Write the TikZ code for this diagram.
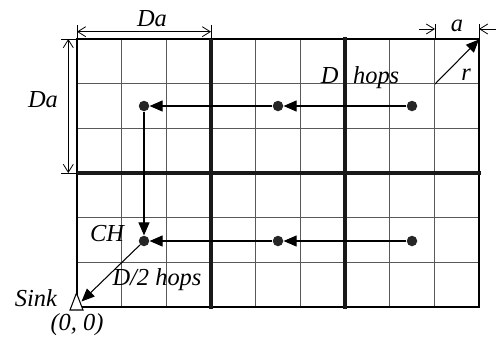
\documentclass[tikz,border=0pt]{standalone}
\usepackage{fontspec}
\setmainfont{Liberation Serif}
\usetikzlibrary{arrows.meta,shapes.geometric}
\begin{document}
\begin{tikzpicture}[x=0.02cm,y=-0.02cm,
  lbl/.style={font=\fontsize{13.9}{16}\selectfont\itshape, inner sep=0, anchor=base},
  dot/.style={circle,fill=black!85,inner sep=0,minimum size=0.21cm},
  hop/.style={line width=0.6pt,-{Triangle[length=0.26cm,width=0.22cm]}},
  dimline/.style={line width=0.45pt},
  dimarrow/.style={line width=0.45pt,{Straight Barb[length=0.16cm,width=0.2cm]}-{Straight Barb[length=0.16cm,width=0.2cm]}},
  onearrow/.style={line width=0.45pt,-{Straight Barb[length=0.16cm,width=0.2cm]}},
  gridline/.style={line width=0.6pt,black!65},
  heavy/.style={line width=2.3pt,black!90},
  sinkshape/.style={draw,fill=white,line width=0.6pt},
]
\useasboundingbox (0,0) rectangle (496,342);
% grid
\foreach \i in {1,...,8} \draw[gridline] (77+\i*44.667,39) -- (77+\i*44.667,307);
\foreach \j in {1,...,5} \draw[gridline] (77,39+\j*44.667) -- (479,39+\j*44.667);
\draw[line width=1.1pt] (77,39) rectangle (479,307);
\draw[heavy] (77,173) -- (481,173);
\draw[heavy] (211,39) -- (211,309);
\draw[heavy] (345,37) -- (345,309);

% dimension Da (top)
\coordinate (t1a) at (77,25); \coordinate (t1b) at (77,39);
\coordinate (t2a) at (211,25); \coordinate (t2b) at (211,39);
\draw[dimline] (t1a) -- (t1b);
\draw[dimline] (t2a) -- (t2b);
\coordinate (ta) at (77,31.7); \coordinate (tb) at (211,31.7);
\draw[dimarrow] (ta) -- (tb);
\node[lbl] (datop) at (152,26) {Da};

% dimension Da (left)
\coordinate (l1a) at (61,39); \coordinate (l1b) at (77,39);
\coordinate (l2a) at (61,173); \coordinate (l2b) at (77,173);
\draw[dimline] (l1a) -- (l1b);
\draw[dimline] (l2a) -- (l2b);
\coordinate (la) at (68.3,39); \coordinate (lb) at (68.3,173);
\draw[dimarrow] (la) -- (lb);
\node[lbl] (daleft) at (43,107) {Da};

% dimension a
\coordinate (a1a) at (435,24); \coordinate (a1b) at (435,39);
\coordinate (a2a) at (479,24); \coordinate (a2b) at (479,39);
\draw[dimline] (a1a) -- (a1b);
\draw[dimline] (a2a) -- (a2b);
\coordinate (aL0) at (419,29); \coordinate (aL1) at (435,29);
\coordinate (aR0) at (496,29); \coordinate (aR1) at (479,29);
\draw[onearrow] (aL0) -- (aL1);
\draw[onearrow] (aR0) -- (aR1);
\node[lbl] (alab) at (457,31) {a};

% radius r
\coordinate (r0) at (435,84); \coordinate (r1) at (479,39.5);
\draw[hop] (r0) -- (r1);
\node[lbl] (rlab) at (466,80) {r};

% dots
\node[dot] (d1) at (412,106) {};
\node[dot] (d2) at (278,106) {};
\node[dot] (d3) at (144,106) {};
\node[dot] (d4) at (412,241) {};
\node[dot] (d5) at (278,241) {};
\node[dot] (ch) at (144,241) {};
% sink triangle
\coordinate (sinkL) at (70,310);
\coordinate (sinkT) at (76.5,293);
\coordinate (sinkR) at (83,310);
\coordinate (sink) at (81.5,301.5);
\draw[sinkshape] (sinkL) -- (sinkT) -- (sinkR) -- cycle;

\draw[hop] (d1) -- (d2);
\draw[hop] (d2) -- (d3);
\draw[hop] (d4) -- (d5);
\draw[hop] (d5) -- (ch);
\draw[hop] (d3) -- (ch);
\draw[hop] (ch) -- (sink);

% labels
\node[lbl] (dhops) at (360,83.3) {D\hspace{0.6em}hops};
\node[lbl] (chlab) at (107,241) {CH};
\node[lbl] (d2hops) at (157,285) {D/2 hops};
\node[lbl] (sinklab) at (36,306.7) {Sink};
\node[lbl] (origin) at (77,330) {(0, 0)};
\end{tikzpicture}
\end{document}
